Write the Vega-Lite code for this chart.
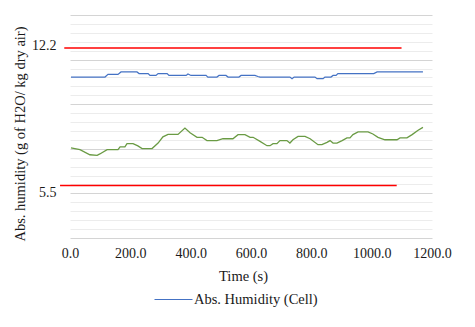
{
  "$schema": "https://vega.github.io/schema/vega-lite/v6.json",
  "width": 362,
  "height": 223,
  "autosize": {"type": "none"},
  "padding": {"left": 70, "top": 15, "right": 43, "bottom": 89},
  "background": "white",
  "config": {"view": {"stroke": null}, "font": "Liberation Serif"},
  "datasets": {
    "blue": [
      {"series": "Abs. Humidity (Cell)", "t": 3.3, "v": 10.78},
      {"series": "Abs. Humidity (Cell)", "t": 116, "v": 10.78},
      {"series": "Abs. Humidity (Cell)", "t": 126, "v": 10.91},
      {"series": "Abs. Humidity (Cell)", "t": 159, "v": 10.91},
      {"series": "Abs. Humidity (Cell)", "t": 169, "v": 11.03},
      {"series": "Abs. Humidity (Cell)", "t": 222, "v": 11.03},
      {"series": "Abs. Humidity (Cell)", "t": 229, "v": 10.95},
      {"series": "Abs. Humidity (Cell)", "t": 259, "v": 10.95},
      {"series": "Abs. Humidity (Cell)", "t": 265, "v": 10.86},
      {"series": "Abs. Humidity (Cell)", "t": 285, "v": 10.86},
      {"series": "Abs. Humidity (Cell)", "t": 292, "v": 10.95},
      {"series": "Abs. Humidity (Cell)", "t": 322, "v": 10.95},
      {"series": "Abs. Humidity (Cell)", "t": 328, "v": 10.86},
      {"series": "Abs. Humidity (Cell)", "t": 385, "v": 10.86},
      {"series": "Abs. Humidity (Cell)", "t": 391, "v": 10.93},
      {"series": "Abs. Humidity (Cell)", "t": 401, "v": 10.86},
      {"series": "Abs. Humidity (Cell)", "t": 451, "v": 10.86},
      {"series": "Abs. Humidity (Cell)", "t": 457, "v": 10.78},
      {"series": "Abs. Humidity (Cell)", "t": 487, "v": 10.78},
      {"series": "Abs. Humidity (Cell)", "t": 494, "v": 10.86},
      {"series": "Abs. Humidity (Cell)", "t": 517, "v": 10.86},
      {"series": "Abs. Humidity (Cell)", "t": 524, "v": 10.78},
      {"series": "Abs. Humidity (Cell)", "t": 560, "v": 10.78},
      {"series": "Abs. Humidity (Cell)", "t": 567, "v": 10.86},
      {"series": "Abs. Humidity (Cell)", "t": 613, "v": 10.86},
      {"series": "Abs. Humidity (Cell)", "t": 623, "v": 10.81},
      {"series": "Abs. Humidity (Cell)", "t": 630, "v": 10.78},
      {"series": "Abs. Humidity (Cell)", "t": 729, "v": 10.78},
      {"series": "Abs. Humidity (Cell)", "t": 736, "v": 10.70},
      {"series": "Abs. Humidity (Cell)", "t": 743, "v": 10.78},
      {"series": "Abs. Humidity (Cell)", "t": 812, "v": 10.78},
      {"series": "Abs. Humidity (Cell)", "t": 819, "v": 10.70},
      {"series": "Abs. Humidity (Cell)", "t": 839, "v": 10.70},
      {"series": "Abs. Humidity (Cell)", "t": 845, "v": 10.78},
      {"series": "Abs. Humidity (Cell)", "t": 865, "v": 10.78},
      {"series": "Abs. Humidity (Cell)", "t": 872, "v": 10.86},
      {"series": "Abs. Humidity (Cell)", "t": 882, "v": 10.86},
      {"series": "Abs. Humidity (Cell)", "t": 888, "v": 10.95},
      {"series": "Abs. Humidity (Cell)", "t": 1007, "v": 10.95},
      {"series": "Abs. Humidity (Cell)", "t": 1018, "v": 11.03},
      {"series": "Abs. Humidity (Cell)", "t": 1170, "v": 11.03}
    ],
    "green": [
      {"t": 3.3, "v": 7.33}, {"t": 33, "v": 7.25}, {"t": 66, "v": 7.0}, {"t": 90, "v": 6.97},
      {"t": 99, "v": 7.04}, {"t": 123, "v": 7.25}, {"t": 159, "v": 7.25}, {"t": 166, "v": 7.38},
      {"t": 182, "v": 7.38}, {"t": 189, "v": 7.54}, {"t": 209, "v": 7.54}, {"t": 225, "v": 7.43},
      {"t": 239, "v": 7.3}, {"t": 272, "v": 7.3}, {"t": 292, "v": 7.57}, {"t": 308, "v": 7.87},
      {"t": 325, "v": 7.99}, {"t": 358, "v": 7.99}, {"t": 381, "v": 8.3}, {"t": 398, "v": 8.07},
      {"t": 421, "v": 7.85}, {"t": 438, "v": 7.85}, {"t": 454, "v": 7.69}, {"t": 487, "v": 7.69},
      {"t": 507, "v": 7.78}, {"t": 540, "v": 7.78}, {"t": 557, "v": 7.98}, {"t": 580, "v": 7.98},
      {"t": 597, "v": 7.85}, {"t": 607, "v": 7.85}, {"t": 630, "v": 7.65}, {"t": 653, "v": 7.44},
      {"t": 663, "v": 7.44}, {"t": 673, "v": 7.54}, {"t": 686, "v": 7.54}, {"t": 696, "v": 7.69},
      {"t": 719, "v": 7.69}, {"t": 729, "v": 7.57}, {"t": 739, "v": 7.73}, {"t": 756, "v": 7.89},
      {"t": 779, "v": 7.89}, {"t": 796, "v": 7.78}, {"t": 822, "v": 7.49}, {"t": 835, "v": 7.49},
      {"t": 852, "v": 7.6}, {"t": 862, "v": 7.69}, {"t": 872, "v": 7.57}, {"t": 885, "v": 7.57},
      {"t": 902, "v": 7.69}, {"t": 918, "v": 7.82}, {"t": 928, "v": 7.82}, {"t": 938, "v": 7.98},
      {"t": 955, "v": 8.11}, {"t": 988, "v": 8.11}, {"t": 1004, "v": 8.01}, {"t": 1021, "v": 7.85},
      {"t": 1044, "v": 7.73}, {"t": 1084, "v": 7.73}, {"t": 1094, "v": 7.82}, {"t": 1117, "v": 7.82},
      {"t": 1134, "v": 7.98}, {"t": 1154, "v": 8.19}, {"t": 1170, "v": 8.33}
    ],
    "limits": [
      {"t": -19, "t2": 1099, "v": 12.2},
      {"t": -33, "t2": 1083, "v": 5.5}
    ]
  },
  "encoding": {
    "x": {
      "field": "t",
      "type": "quantitative",
      "scale": {"domain": [0, 1200], "nice": false, "zero": false},
      "axis": {
        "values": [0, 200, 400, 600, 800, 1000, 1200],
        "format": ".1f",
        "grid": false,
        "domain": false,
        "ticks": false,
        "labelPadding": 8,
        "labelFont": "Liberation Serif",
        "labelFontSize": 14,
        "labelColor": "#1a1a1a",
        "labelFlush": false,
        "labelOverlap": false,
        "title": "Time (s)",
        "titleFont": "Liberation Serif",
        "titleFontSize": 14.5,
        "titleFontWeight": "normal",
        "titleColor": "#1a1a1a",
        "titlePadding": 9,
        "titleX": 173
      }
    },
    "y": {
      "field": "v",
      "type": "quantitative",
      "scale": {"domain": [2.95, 13.8], "nice": false, "zero": false},
      "axis": {
        "values": [2.95, 3.384, 3.818, 4.252, 4.686, 5.12, 5.5, 5.554, 5.988, 6.422, 6.856, 7.29, 7.724, 8.158, 8.592, 9.026, 9.46, 9.894, 10.328, 10.762, 11.196, 11.63, 12.064, 12.2, 12.498, 12.932, 13.366, 13.8],
        "format": ".1f",
        "labelExpr": "datum.value == 5.5 || datum.value == 12.2 ? datum.label : ''",
        "grid": true,
        "gridColor": {"condition": {"test": "indexof([2.95, 5.12, 7.29, 9.46, 11.63, 13.8], datum.value) >= 0", "value": "#d4d4d4"}, "value": "#ececec"},
        "gridOpacity": {"condition": {"test": "datum.value == 5.5 || datum.value == 12.2", "value": 0}, "value": 1},
        "domain": false,
        "ticks": false,
        "labelPadding": 14,
        "labelOffset": {"condition": {"test": "datum.value == 5.5", "value": 6.5}, "value": -2},
        "labelBaseline": "middle",
        "labelOverlap": false,
        "labelFont": "Liberation Serif",
        "labelFontSize": 14,
        "labelColor": "#1a1a1a",
        "title": "Abs. humidity (g of H2O/ kg dry air)",
        "titleFont": "Liberation Serif",
        "titleFontSize": 14.5,
        "titleFontWeight": "normal",
        "titleColor": "#1a1a1a",
        "titlePadding": 4,
        "titleY": 118.5
      }
    }
  },
  "layer": [
    {
      "data": {"name": "green"},
      "mark": {"type": "line", "color": "#6a9b44", "strokeWidth": 1.3}
    },
    {
      "data": {"name": "blue"},
      "mark": {"type": "line", "strokeWidth": 1.2},
      "encoding": {
        "color": {
          "field": "series",
          "type": "nominal",
          "scale": {"range": ["#4472c4"]},
          "legend": {
            "orient": "none",
            "legendX": 84,
            "legendY": 265,
            "title": null,
            "symbolType": "stroke",
            "symbolSize": 1444,
            "symbolStrokeWidth": 1,
            "labelFont": "Liberation Serif",
            "labelFontSize": 14.5,
            "labelColor": "#1a1a1a",
            "labelOffset": 1,
            "labelLimit": 300,
            "padding": 0
          }
        }
      }
    },
    {
      "data": {"name": "limits"},
      "mark": {"type": "rule", "color": "#ff0000", "strokeWidth": 1.5, "clip": false},
      "encoding": {
        "x2": {"field": "t2"}
      }
    }
  ]
}
